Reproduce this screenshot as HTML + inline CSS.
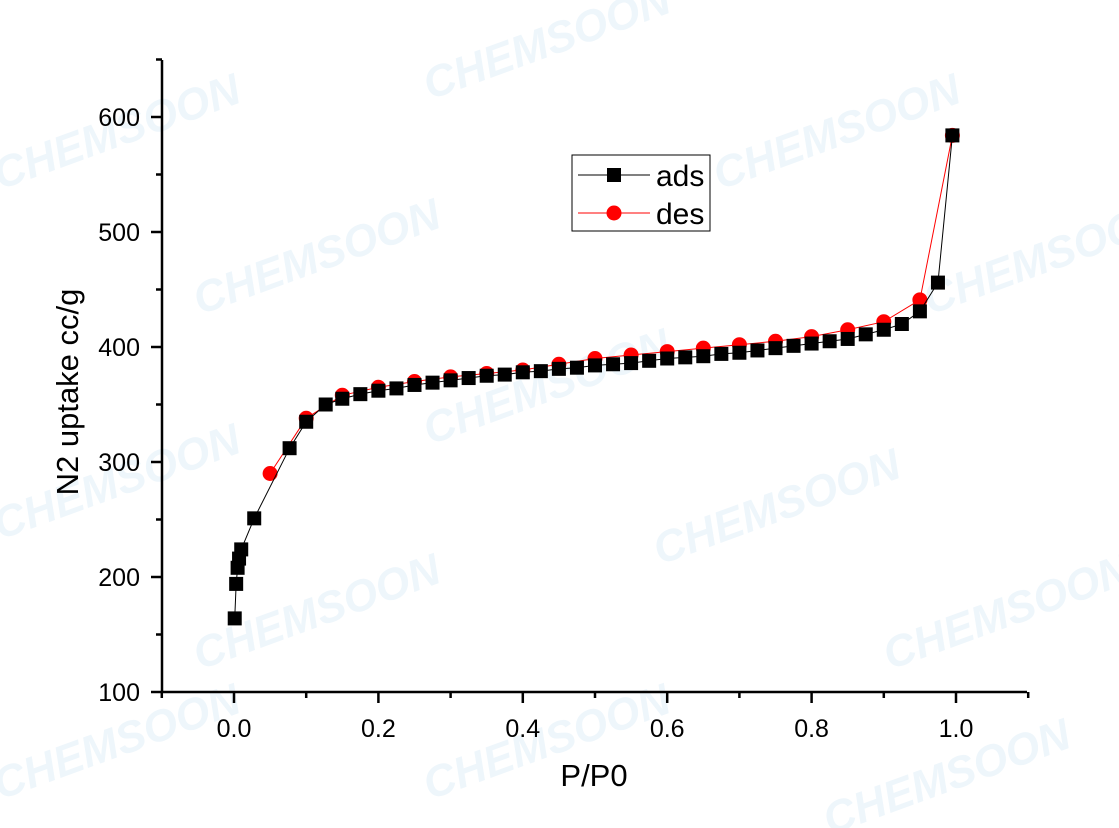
<!DOCTYPE html>
<html><head><meta charset="utf-8"><style>
body{margin:0;background:#fff;}
svg{display:block;font-family:"Liberation Sans",Arial,sans-serif;}
.wm{font-size:44px;font-weight:bold;fill:#eef6fb;font-style:italic;}
</style></head><body>
<svg id="chart" width="1119" height="828">
<g>
<text class="wm" transform="translate(0,190) rotate(-20)">CHEMSOON</text>
<text class="wm" transform="translate(430,100) rotate(-20)">CHEMSOON</text>
<text class="wm" transform="translate(720,190) rotate(-20)">CHEMSOON</text>
<text class="wm" transform="translate(200,315) rotate(-20)">CHEMSOON</text>
<text class="wm" transform="translate(930,315) rotate(-20)">CHEMSOON</text>
<text class="wm" transform="translate(0,540) rotate(-20)">CHEMSOON</text>
<text class="wm" transform="translate(430,445) rotate(-20)">CHEMSOON</text>
<text class="wm" transform="translate(660,565) rotate(-20)">CHEMSOON</text>
<text class="wm" transform="translate(200,670) rotate(-20)">CHEMSOON</text>
<text class="wm" transform="translate(890,670) rotate(-20)">CHEMSOON</text>
<text class="wm" transform="translate(0,800) rotate(-20)">CHEMSOON</text>
<text class="wm" transform="translate(430,800) rotate(-20)">CHEMSOON</text>
<text class="wm" transform="translate(830,835) rotate(-20)">CHEMSOON</text>
</g>
<g id="axes"></g>
<g id="series"></g>
<g>
<rect x="572" y="155" width="138" height="76" fill="#fff" stroke="#000" stroke-width="1"/>
<line x1="578" y1="175" x2="650" y2="175" stroke="#000"/>
<rect x="607" y="168" width="14" height="14" fill="#000"/>
<text x="656" y="186" font-size="30">ads</text>
<line x1="578" y1="213" x2="650" y2="213" stroke="#f00"/>
<circle cx="614" cy="213" r="7.5" fill="#f00"/>
<text x="656" y="224" font-size="30">des</text>
</g>
<text x="594" y="786" font-size="31" text-anchor="middle">P/P0</text>
<text transform="translate(78,392) rotate(-90)" font-size="31" text-anchor="middle">N2 uptake cc/g</text>
</svg>
<script>
const adsX=[0.001,0.003,0.005,0.007,0.01,0.028,0.077,0.1,0.127,0.15,0.175,0.2,0.225,0.25,0.275,0.3,0.325,0.35,0.375,0.4,0.425,0.45,0.475,0.5,0.525,0.55,0.575,0.6,0.625,0.65,0.675,0.7,0.725,0.75,0.775,0.8,0.825,0.85,0.875,0.9,0.925,0.95,0.975,0.995];
const adsY=[164,194,208,216,224,251,312,335,350,355,359,362,364,367,369,371,373,375,376,378,379,381,382,384,385,386,388,390,391,392,394,395,397,399,401,403,405,407,411,415,420,431,456,584];
const desX=[0.995,0.95,0.9,0.85,0.8,0.75,0.7,0.65,0.6,0.55,0.5,0.45,0.4,0.35,0.3,0.25,0.2,0.15,0.1,0.05];
const desY=[584,441,422,415,409,405,402,399,396,393,390,385,380,377,374,370,365,358,338,290];
const xTicks=["0.0","0.2","0.4","0.6","0.8","1.0"];
const yTicks=["100","200","300","400","500","600"];
const NS="http://www.w3.org/2000/svg";
const sx=v=>234+v*722, sy=v=>692-(v-100)*1.15;
function mk(t,a,p){const e=document.createElementNS(NS,t);for(const k in a)e.setAttribute(k,a[k]);p.appendChild(e);return e;}
const ax=document.getElementById('axes'), se=document.getElementById('series');
let l=mk('line',{x1:162,y1:60,x2:162,y2:693,stroke:'#000','stroke-width':2.5},ax);


l=mk('line',{x1:161,y1:692,x2:1027,y2:692,stroke:'#000','stroke-width':2.5},ax);


for(let i=-1;i<=11;i++){const x=sx(i/10);const maj=i>=0&&i%2===0&&i<=10;
 mk('line',{x1:x,y1:692,x2:x,y2:692+(maj?11:6),stroke:'#000','stroke-width':2.5},ax);}
xTicks.forEach(t=>{const e=mk('text',{x:sx(+t),y:737,'font-size':25,'text-anchor':'middle'},ax);e.textContent=t;
 
 });
for(let v=100;v<=650;v+=50){const y=sy(v);const maj=v%100===0;
 mk('line',{x1:162,y1:y,x2:162-(maj?11:6),y2:y,stroke:'#000','stroke-width':2.5},ax);}
yTicks.forEach(t=>{const e=mk('text',{x:140,y:sy(+t)+9,'font-size':25,'text-anchor':'end'},ax);e.textContent=t;
 
 });
let p=mk('polyline',{points:desX.map((x,i)=>sx(x)+','+sy(desY[i])).join(' '),fill:'none',stroke:'#f00','stroke-width':1},se);


desX.forEach((x,i)=>{const c=mk('circle',{cx:sx(x),cy:sy(desY[i]),r:7.5,fill:'#f00'},se);
 
 });
p=mk('polyline',{points:adsX.map((x,i)=>sx(x)+','+sy(adsY[i])).join(' '),fill:'none',stroke:'#000','stroke-width':1},se);


adsX.forEach((x,i)=>{const r=mk('rect',{x:sx(x)-7,y:sy(adsY[i])-7,width:14,height:14,fill:'#000'},se);
 
 });
</script>
</body></html>
